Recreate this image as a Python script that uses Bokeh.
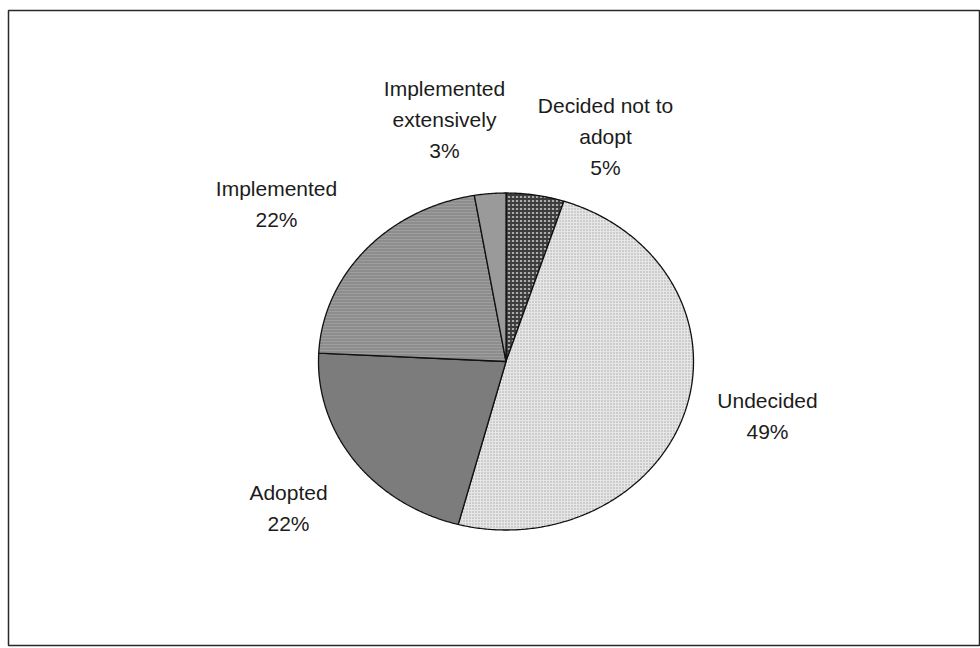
import numpy as np
from bokeh.plotting import figure
from bokeh.models import Range1d, ColumnDataSource
from bokeh.core.properties import value
from bokeh.embed import file_html
from bokeh.resources import INLINE

# ---- data ----
categories = ["Decided not to adopt", "Undecided", "Adopted", "Implemented", "Implemented extensively"]
shares = [5.0, 49.1, 21.7, 21.5, 2.7]
label_names = [["Decided not to", "adopt"], ["Undecided"], ["Adopted"], ["Implemented"], ["Implemented", "extensively"]]

# ---- styles / layout ----
fills = ["#ababab", "#e6e6e6", "#7c7c7c", "#8d8d8d", "#9a9a9a"]
hatches = ["cross", "dot", " ", "horizontal_line", " "]
hatch_colors = ["#3c3c3c", "#a4a4a4", "#7c7c7c", "#9e9e9e", "#9a9a9a"]
hatch_scales = [4.0, 3.0, 4.0, 3.0, 4.0]
hatch_weights = [1.8, 1.6, 1.0, 1.0, 1.0]
CX, CY, RX, RY = 505.5, 361.0, 187.5, 168.5
# label anchor (centre of the first line) for each slice, in page pixels
label_pos = [(605, 105), (767, 400), (288, 492), (276, 188), (444, 88)]
LINE_STEP = 31

total = float(sum(shares))
edges = np.concatenate([[0.0], np.cumsum(shares)]) / total * 2 * np.pi

xs, ys = [], []
for a0, a1 in zip(edges[:-1], edges[1:]):
    t = np.linspace(a0, a1, max(int((a1 - a0) / np.radians(0.5)), 2) + 1)
    px = CX + RX * np.sin(t)
    py = CY - RY * np.cos(t)
    xs.append([CX] + list(px) + [CX])
    ys.append([CY] + list(py) + [CY])

src = ColumnDataSource(dict(xs=xs, ys=ys, fill=fills, hatch=hatches, hcol=hatch_colors,
                            hscale=hatch_scales, hw=hatch_weights, cat=categories))

p = figure(width=980, height=648, x_range=Range1d(8, 980), y_range=Range1d(645, 10),
           output_backend="svg", toolbar_location=None, x_axis_type=None, y_axis_type=None,
           min_border_left=8, min_border_top=10, min_border_right=0, min_border_bottom=3)
p.grid.visible = False
p.outline_line_color = "#2a2a2a"
p.outline_line_width = 1.5
p.background_fill_color = "white"
p.border_fill_color = "white"

p.patches("xs", "ys", source=src, fill_color="fill", hatch_pattern="hatch", hatch_color="hcol",
          hatch_scale="hscale", hatch_weight="hw", line_color="#111111", line_width=1.3)

tx, ty, tt = [], [], []
for (lx, ly), names, s in zip(label_pos, label_names, shares):
    lines = names + ["%d%%" % round(s / total * 100)]
    for i, line in enumerate(lines):
        tx.append(lx)
        ty.append(ly + i * LINE_STEP)
        tt.append(line)

p.text(x=tx, y=ty, text=tt, text_font=value("Liberation Sans"), text_font_size="21px",
       text_color="#1c1c1c", text_align="center", text_baseline="middle")

open("out.html", "w").write(file_html(p, INLINE))
